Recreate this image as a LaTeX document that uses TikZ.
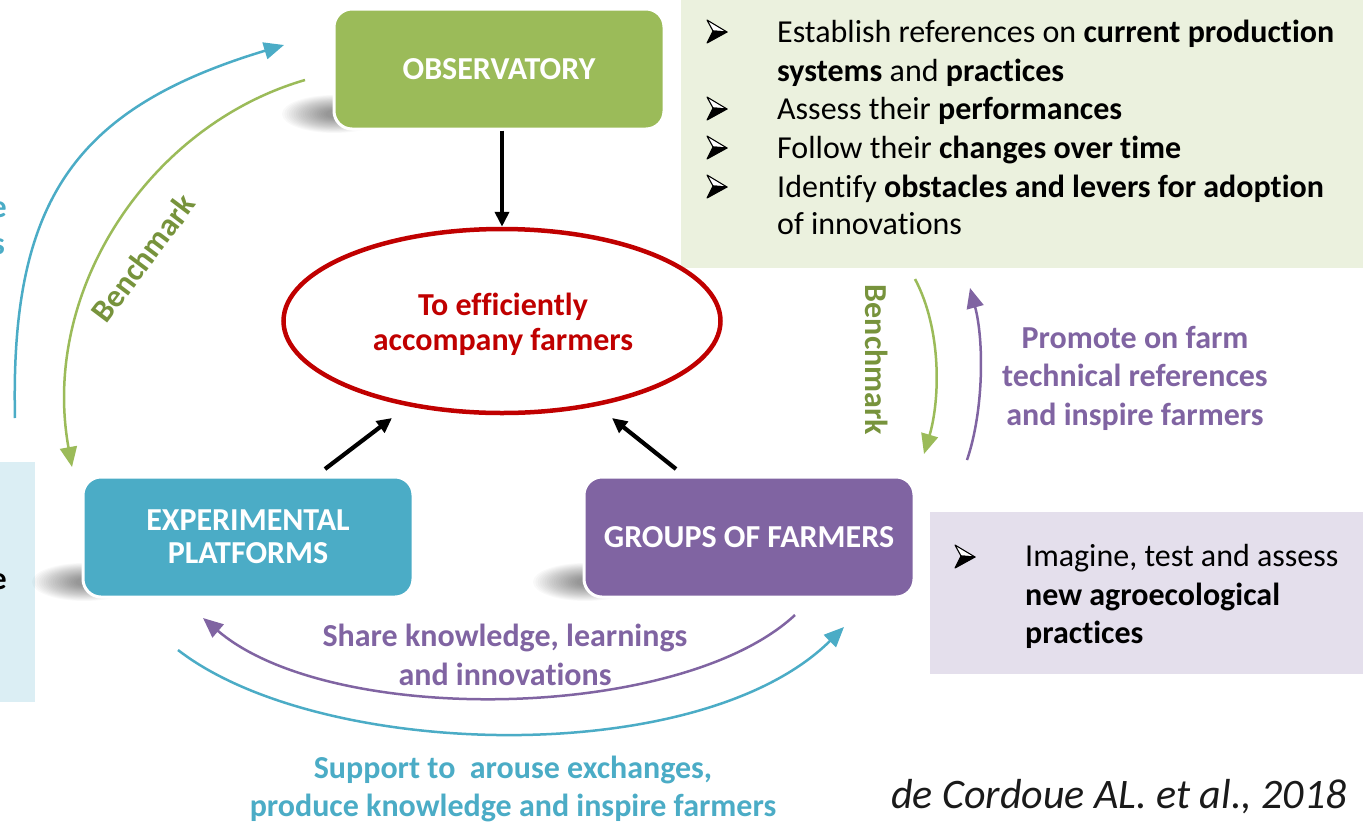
\documentclass[tikz,border=0pt]{standalone}
\usepackage{fontspec}
\setmainfont{Carlito}[Ligatures=NoCommon]
\usetikzlibrary{arrows.meta,shapes.geometric}
\definecolor{cgreen}{HTML}{9BBB59}
\definecolor{cblue}{HTML}{4BACC6}
\definecolor{cpurple}{HTML}{8064A2}
\definecolor{cred}{HTML}{C00000}
\definecolor{cdkgreen}{HTML}{77933C}
\definecolor{panelgreen}{HTML}{EBF1DE}
\definecolor{panelpurple}{HTML}{E4DFEC}
\definecolor{panelblue}{HTML}{DBEEF4}
\definecolor{citegray}{HTML}{1A1A1A}
\tikzset{
  boxnode/.style={rounded corners=18pt, draw=white, line width=3pt,
    minimum width=330pt, minimum height=120pt, text=white,
    font=\fontsize{32}{33}\selectfont\bfseries, align=center},
  txt/.style={inner sep=0pt, font=\fontsize{32}{38}\selectfont, text=black},
  lbl/.style={font=\fontsize{32}{38.5}\selectfont\bfseries, align=center, inner sep=0pt},
  blk/.style={line width=4.2pt, draw=black, -{Triangle[length=15pt,width=14pt]}},
  carc/.style={line width=2.5pt, -{Triangle[length=20pt,width=17pt]}},
  arrowbullet/.pic={
    \fill[black, line join=round] (6,11) -- (20,12) -- (0,23) -- cycle;
    \draw[black, fill=white, line width=1.1pt, line join=round] (0,0) -- (20,12) -- (6,11) -- cycle;
    \draw[black, line width=1.1pt, line join=round] (6,11) -- (20,12) -- (0,23) -- cycle;
  },
  boxshadow/.pic={
    \foreach \i in {0,...,19}
      \fill[black, opacity=0.022] (0,0) ellipse [x radius={52-2.3*\i}, y radius={19-0.8*\i}];
  },
}
\begin{document}
\begin{tikzpicture}[x=1pt,y=-1pt]
\useasboundingbox (0,0) rectangle (1363,823);
\fill[white] (0,0) rectangle (1363,823);

% side panels
\fill[panelgreen] (681,0) rectangle (1363,268);
\fill[panelpurple] (930,512) rectangle (1363,674);
\fill[panelblue] (0,462) rectangle (35,702);

% cut-off fragments at the left edge
\node[inner sep=0pt, anchor=east, text=cblue, font=\fontsize{32}{33}\selectfont\bfseries] (fe) at (7,210) {e};
\node[inner sep=0pt, anchor=east, text=cblue, font=\fontsize{32}{33}\selectfont\bfseries] (fs) at (5,247) {s};
\node[inner sep=0pt, anchor=east, text=black, font=\fontsize{32}{33}\selectfont\bfseries] (fb) at (7,582) {e};

% soft shadows of the boxes
\pic at (334,114) {boxshadow};
\pic at (84,582) {boxshadow};
\pic at (585,582) {boxshadow};

% main boxes
\node[boxnode, fill=cgreen] (obs) at (499,69) {OBSERVATORY};
\node[boxnode, fill=cblue] (exp) at (248,537) {EXPERIMENTAL\\PLATFORMS};
\node[boxnode, fill=cpurple] (grp) at (749,537) {GROUPS OF FARMERS};

% goal ellipse
\node[ellipse, draw=cred, line width=4.5pt, minimum width=437pt, minimum height=184pt] (goal) at (502,321) {};
\node[text=cred, font=\fontsize{32}{35}\selectfont\bfseries, align=center, inner sep=0pt] (goaltxt) at (503,324)
      {To efficiently\\accompany farmers};

% black arrows
\draw[blk] (obs.south -| goal.north) -- (goal.north);
\coordinate (e1) at (325,469);
\coordinate (e2) at (392,418);
\coordinate (g1) at (676,469);
\coordinate (g2) at (612,418);
\draw[blk] (e1) -- (e2);
\draw[blk] (g1) -- (g2);

% left arcs
\coordinate (lb1) at (15,418);
\coordinate (lb2) at (284,45);
\draw[carc, cblue] (lb1) .. controls (10,200) and (75,108) .. (lb2);
\coordinate (lg1) at (305,80);
\coordinate (lg2) at (72,467);
\draw[carc, cgreen] (lg1) .. controls (150,125) and (40,290) .. (lg2);
\node[lbl, text=cdkgreen, rotate=53] (bm1) at (143,258) {Benchmark};

% right arcs
\coordinate (rg1) at (915,279);
\coordinate (rg2) at (924,454);
\draw[carc, cgreen] (rg1) .. controls (942,330) and (940,400) .. (rg2);
\coordinate (rp1) at (967,460);
\coordinate (rp2) at (970,288);
\draw[carc, cpurple] (rp1) .. controls (984,410) and (984,340) .. (rp2);
\node[lbl, text=cdkgreen, rotate=-90] (bm2) at (877,360) {Benchmark};
\node[lbl, text=cpurple] (prom) at (1135,378) {Promote on farm\\technical references\\and inspire farmers};

% bottom arcs
\coordinate (bp1) at (795,615);
\coordinate (bp2) at (203,618);
\draw[carc, cpurple] (bp1) .. controls (680,722) and (330,727) .. (bp2);
\coordinate (bb1) at (178,650);
\coordinate (bb2) at (844,627);
\draw[carc, cblue] (bb1) .. controls (320,760) and (700,770) .. (bb2);
\node[lbl, text=cpurple] (share) at (505,655) {Share knowledge, learnings\\and innovations};
\node[lbl, text=cblue] (supp) at (513,789) {Support to\ \ arouse exchanges,\\produce knowledge and inspire farmers};

% top-right bullet list
\pic at (707,20) {arrowbullet};
\pic at (707,97) {arrowbullet};
\pic at (707,136) {arrowbullet};
\pic at (707,175) {arrowbullet};
\node[txt, anchor=base west] (t1) at (777,42) {Establish references on \textbf{current production}};
\node[txt, anchor=base west] (t2) at (777,81) {\textbf{systems} and \textbf{practices}};
\node[txt, anchor=base west] (t3) at (777,119) {Assess their \textbf{performances}};
\node[txt, anchor=base west] (t4) at (777,158) {Follow their \textbf{changes over time}};
\node[txt, anchor=base west] (t5) at (777,197) {Identify \textbf{obstacles and levers for adoption}};
\node[txt, anchor=base west] (t6) at (777,234) {of innovations};

% lavender panel list
\pic at (955,545) {arrowbullet};
\node[txt, anchor=base west] (u1) at (1025,566) {Imagine, test and assess};
\node[txt, anchor=base west] (u2) at (1025,605) {\textbf{new agroecological}};
\node[txt, anchor=base west] (u3) at (1025,643) {\textbf{practices}};

% citation
\node[inner sep=0pt, text=citegray, font=\fontsize{42}{44}\selectfont\itshape] (cite) at (1119,797) {de Cordoue AL. et al., 2018};
\end{tikzpicture}
\end{document}
